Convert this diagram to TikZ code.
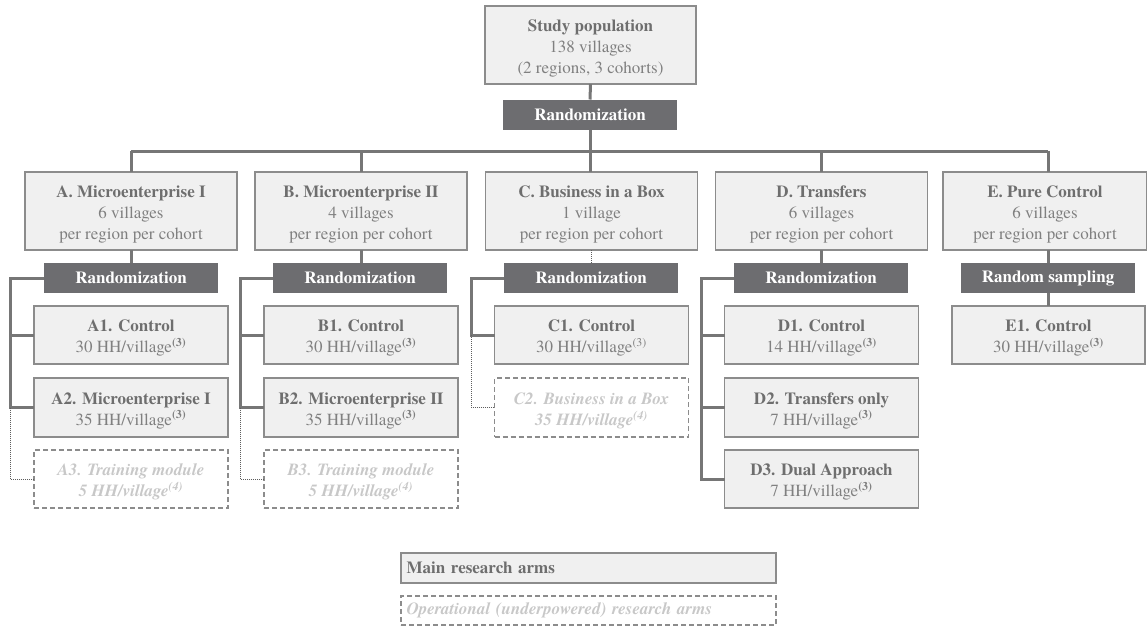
\documentclass[tikz,border=0pt]{standalone}
\usepackage{fontspec}
\IfFontExistsTF{texgyretermes-regular.otf}{%
  \setmainfont{texgyretermes}[Extension=.otf,UprightFont=*-regular,BoldFont=*-bold,ItalicFont=*-italic,BoldItalicFont=*-bolditalic]}{}
\definecolor{boxfill}{HTML}{F0F0F0}
\definecolor{boxdraw}{HTML}{8C8C8C}
\definecolor{titlecol}{HTML}{6E6E6E}
\definecolor{bodycol}{HTML}{808080}
\definecolor{randfill}{HTML}{6D6D70}
\definecolor{linecol}{HTML}{767676}
\definecolor{opcol}{HTML}{C8C8C8}
\begin{document}
\begin{tikzpicture}[x=1pt,y=-1pt,
  every node/.style={inner sep=0pt, outer sep=0pt, align=center, font=\fontsize{17}{21}\selectfont},
  mainbox/.style={draw=boxdraw, line width=1.4pt, fill=boxfill, text=bodycol},
  randbox/.style={fill=randfill, text=white, font=\fontsize{17}{21}\selectfont\bfseries, minimum width=174pt, minimum height=30pt},
  opbox/.style={draw=boxdraw, line width=1.2pt, dash pattern=on 5pt off 3pt, fill=white, text=opcol, font=\fontsize{17}{21}\selectfont\bfseries\itshape},
  lvltwo/.style={mainbox, minimum width=212pt, minimum height=78pt},
  leaf/.style={mainbox, minimum width=194pt, minimum height=58pt},
  conn/.style={draw=linecol, line width=3pt},
  dotconn/.style={draw=linecol!80!black, line width=0.8pt, dash pattern=on 1pt off 1pt},
]
\useasboundingbox (0,0) rectangle (1147,627);
\newcommand{\tp}{\rule{0pt}{18pt}}
\newcommand{\ttl}[1]{{\color{titlecol}\bfseries\tp #1}}
\newcommand{\sth}{\textsuperscript{\bfseries(3)}}
% top
\node[lvltwo, minimum width=211pt] (top) at (590.5,45) {\ttl{Study population}\\138 villages\\(2 regions, 3 cohorts)};
\node[randbox] (r0) at (590,114.5) {Randomization};
% level 2
\node[lvltwo] (A) at (131,211) {\ttl{A. Microenterprise I}\\6 villages\\per region per cohort};
\node[lvltwo] (B) at (361,211) {\ttl{B. Microenterprise II}\\4 villages\\per region per cohort};
\node[lvltwo] (C) at (591.5,211) {\ttl{C. Business in a Box}\\1 village\\per region per cohort};
\node[lvltwo] (D) at (821.5,211) {\ttl{D. Transfers}\\6 villages\\per region per cohort};
\node[lvltwo, minimum width=204pt] (E) at (1045,211) {\ttl{E. Pure Control}\\6 villages\\per region per cohort};
% level 3 randomization
\node[randbox] (rA) at (131,278) {Randomization};
\node[randbox] (rB) at (360,278) {Randomization};
\node[randbox] (rC) at (591,278) {Randomization};
\node[randbox] (rD) at (821,278) {Randomization};
\node[randbox] (rE) at (1048,278) {Random sampling};
% leaves
\node[leaf] (A1) at (131,335) {\ttl{A1. Control}\\30 HH/village\sth};
\node[leaf, minimum height=59pt] (A2) at (131,407.5) {\ttl{A2. Microenterprise I}\\35 HH/village\sth};
\node[leaf, opbox] (A3) at (131,479) {\tp A3. Training module\\5 HH/village\textsuperscript{(4)}};
\node[leaf] (B1) at (361,335) {\ttl{B1. Control}\\30 HH/village\sth};
\node[leaf, minimum height=59pt] (B2) at (361,407.5) {\ttl{B2. Microenterprise II}\\35 HH/village\sth};
\node[leaf, opbox] (B3) at (361,479) {\tp B3. Training module\\5 HH/village\textsuperscript{(4)}};
\node[leaf] (C1) at (591.5,335) {\ttl{C1. Control}\\30 HH/village\textsuperscript{(3)}};
\node[leaf, opbox, minimum height=59pt] (C2) at (591.5,407.5) {\tp C2. Business in a Box\\35 HH/village\textsuperscript{(4)}};
\node[leaf] (D1) at (821.5,335) {\ttl{D1. Control}\\14 HH/village\sth};
\node[leaf, minimum height=59pt] (D2) at (821.5,407.5) {\ttl{D2. Transfers only}\\7 HH/village\sth};
\node[leaf] (D3) at (821.5,479) {\ttl{D3. Dual Approach}\\7 HH/village\sth};
\node[leaf, minimum width=193pt] (E1) at (1048.5,335) {\ttl{E1. Control}\\30 HH/village\sth};
% legend
\node[mainbox, minimum width=375pt, minimum height=30pt, text width=364pt, align=left, text=titlecol, font=\fontsize{17}{21}\selectfont\bfseries] (legM) at (588.5,568) {Main research arms};
\node[opbox, minimum width=375pt, minimum height=29pt, text width=364pt, align=left] (legO) at (588.5,610.5) {Operational (underpowered) research arms};
% coordinates for bracket spines
\coordinate (bA) at (10,0);
\coordinate (bB) at (240,0);
\coordinate (bC) at (471,0);
\coordinate (bD) at (701,0);
\coordinate (hl) at (131,151);
\coordinate (hr) at (1048,151);
% top connectors
\draw[conn] (top.south) -- (r0.north);
\draw[conn] (r0.south) -- (C.north -| r0);
\draw[conn] (hl) -- (hr);
\draw[conn] (hl) -- (A.north -| hl);
\draw[conn] (B.north |- hl) -- (B.north);
\draw[conn] (D.north |- hl) -- (D.north);
\draw[conn] (hr) -- (E.north -| hr);
% level 2 to randomization
\draw[conn] (A.south) -- (rA.north -| A.south);
\draw[conn] (B.south) -- (rB.north -| B.south);
\draw[dotconn] (C.south) -- (rC.north -| C.south);
\draw[conn] (D.south) -- (rD.north -| D.south);
\draw[conn] (rE.south) -- (E1.north -| rE.south);
\draw[conn] (E.south -| rE) -- (rE.north);
% A bracket
\draw[conn] (rA.west) -- (rA.west -| bA) -- (A2.west -| bA) -- (A2.west);
\draw[conn] (A1.west -| bA) -- (A1.west);
\draw[dotconn] (A2.west -| bA) -- (A3.west -| bA) -- (A3.west);
% B bracket
\draw[conn] (rB.west) -- (rB.west -| bB) -- (B2.west -| bB) -- (B2.west);
\draw[conn] (B1.west -| bB) -- (B1.west);
\draw[dotconn] (B2.west -| bB) -- (B3.west -| bB) -- (B3.west);
% C bracket
\draw[conn] (rC.west) -- (rC.west -| bC) -- (C1.west -| bC) -- (C1.west);
\draw[dotconn] (C1.west -| bC) -- (C2.west -| bC) -- (C2.west);
% D bracket
\draw[conn] (rD.west) -- (rD.west -| bD) -- (D3.west -| bD) -- (D3.west);
\draw[conn] (D1.west -| bD) -- (D1.west);
\draw[conn] (D2.west -| bD) -- (D2.west);
\end{tikzpicture}
\end{document}
